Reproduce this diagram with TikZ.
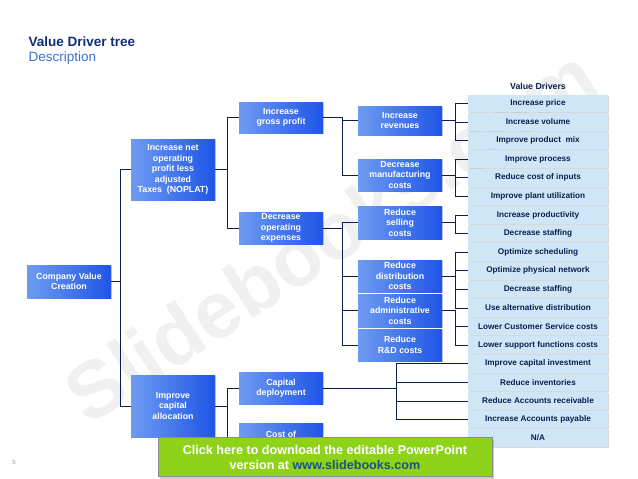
\documentclass[tikz,border=0pt]{standalone}
\usepackage{fontspec}
\setmainfont{Liberation Sans}
\usetikzlibrary{shadows}
\definecolor{navy}{HTML}{0B1F4E}
\definecolor{titleblue}{HTML}{0F2F7A}
\definecolor{descblue}{HTML}{3C6FD0}
\definecolor{boxleft}{HTML}{6E9BF2}
\definecolor{boxright}{HTML}{1E55E6}
\definecolor{driverfill}{HTML}{CFE6F7}
\definecolor{bannergreen}{HTML}{8FD21A}
\definecolor{linkblue}{HTML}{1B4F8F}
\tikzset{
  lvlbox/.style={draw=none, left color=boxleft, right color=boxright, text=white,
    font=\bfseries\fontsize{8.8}{10.4}\selectfont, align=center, inner sep=0pt,
    drop shadow={shadow xshift=1pt, shadow yshift=-1pt, opacity=0.35}},
  driver/.style={draw=none, fill=driverfill, text=navy, minimum width=140pt,
    minimum height=17.6pt, inner sep=0pt, font=\bfseries\fontsize{8.2}{9}\selectfont,
    drop shadow={shadow xshift=1pt, shadow yshift=-1pt, opacity=0.3}},
  link/.style={navy, line width=0.7pt}
}
\begin{document}
\begin{tikzpicture}[x=1pt, y=-1pt]
\useasboundingbox (0,0) rectangle (638,479);

% watermark
\node[rotate=33, text=black!6, font=\bfseries\fontsize{80}{80}\selectfont] (mark) at (330,235) {Slidebooks.com};

% title
\node[anchor=west, text=titleblue, font=\bfseries\fontsize{13.5}{15}\selectfont] (title) at (25,42) {Value Driver tree};
\node[anchor=west, text=descblue, font=\fontsize{13.5}{15}\selectfont] (desc) at (25,58) {Description};
\node[text=navy, font=\bfseries\fontsize{8.8}{10}\selectfont] (vdhead) at (538,86) {Value Drivers};
\node[text=black!40, font=\fontsize{6}{7}\selectfont] (pagenum) at (14,462) {5};

% tree levels
\node[lvlbox, minimum width=84pt, minimum height=33pt] (cvc) at (69,281.5) {Company Value\\Creation};
\node[lvlbox, minimum width=84pt, minimum height=61pt] (noplat) at (173,169.5) {Increase net\\operating\\profit less\\adjusted\\Taxes\ \ (NOPLAT)};
\node[lvlbox, minimum width=84pt, minimum height=62pt] (capalloc) at (173,406) {Improve\\capital\\allocation};
\node[lvlbox, minimum width=84pt, minimum height=31pt] (gross) at (281,117.5) {Increase\\gross profit};
\node[lvlbox, minimum width=84pt, minimum height=32pt] (opex) at (281,228) {Decrease\\operating\\expenses};
\node[lvlbox, minimum width=84pt, minimum height=32pt] (capdep) at (281,388) {Capital\\deployment};
\node[lvlbox, minimum width=84pt, minimum height=34pt, anchor=north] (costcap) at (281,423) {Cost of\\capital};
\node[lvlbox, minimum width=84pt, minimum height=29pt] (rev) at (400,120.5) {Increase\\revenues};
\node[lvlbox, minimum width=84pt, minimum height=32pt] (manuf) at (400,175) {Decrease\\manufacturing\\costs};
\node[lvlbox, minimum width=84pt, minimum height=33pt] (sell) at (400,222.5) {Reduce\\selling\\costs};
\node[lvlbox, minimum width=84pt, minimum height=32pt] (distr) at (400,276) {Reduce\\distribution\\costs};
\node[lvlbox, minimum width=84pt, minimum height=33pt] (admin) at (400,310.5) {Reduce\\administrative\\costs};
\node[lvlbox, minimum width=84pt, minimum height=32pt] (rnd) at (400,345) {Reduce\\R\&D costs};

% value drivers
\foreach \i/\txt in {0/Increase price, 1/Increase volume, 2/Improve product\ \ mix,
  3/Improve process, 4/Reduce cost of inputs, 5/Improve plant utilization,
  6/Increase productivity, 7/Decrease staffing, 8/Optimize scheduling,
  9/Optimize physical network, 10/Decrease staffing, 11/Use alternative distribution,
  12/Lower Customer Service costs, 13/Lower support functions costs,
  14/Improve capital investment, 15/Reduce inventories, 16/Reduce Accounts receivable,
  17/Increase Accounts payable, 18/{N/A}}
  \node[driver] (d\i) at (538,{103.3+18.6*\i}) {\txt};

% connectors
\foreach \a/\b/\bx in {cvc/noplat/120, cvc/capalloc/120, noplat/gross/227, noplat/opex/227,
  capalloc/capdep/227, capalloc/costcap/227, gross/rev/342, gross/manuf/342,
  opex/sell/342, opex/distr/342, opex/admin/342, opex/rnd/342}
  \draw[link] (\a.east) -| (\bx,0 |- \b.west) -- (\b.west);
\foreach \a/\bx/\list in {rev/455/{0,1,2}, manuf/455/{3,4,5}, sell/455/{6,7},
  distr/455/{8,9,10,11}, admin/455/{12,13}, capdep/396/{14,15,16,17}}
  \foreach \k in \list
    \draw[link] (\a.east) -| (\bx,0 |- d\k.west) -- (d\k.west);

% banner
\node[draw=black!45, line width=0.6pt, fill=bannergreen, minimum width=334pt, minimum height=39pt,
  align=center, text=white, font=\bfseries\fontsize{12.6}{15}\selectfont,
  drop shadow={shadow xshift=2pt, shadow yshift=-2pt, opacity=0.4}] (banner) at (325,457)
  {Click here to download the editable PowerPoint\\version at \textcolor{linkblue}{www.slidebooks.com}};
\end{tikzpicture}
\end{document}
